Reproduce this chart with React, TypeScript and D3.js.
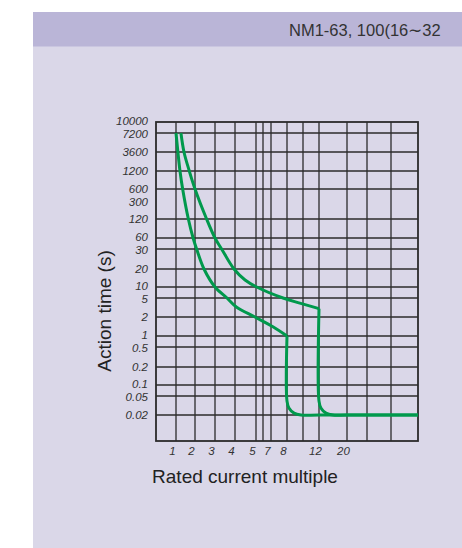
import React from "react";
import * as d3 from "d3";

// ---- data ----
const headerTitle = "NM1-63, 100(16∼32";
const yAxisTitle = "Action time (s)";
const xAxisTitle = "Rated current multiple";

// vertical grid lines (multiples of rated current)
const xGridValues = [1, 2, 3, 4, 5, 6, 7, 8, 10, 12, 20, 30, 50];
const xTickLabels = [1, 2, 3, 4, 5, 7, 8, 12, 20];
const xFrame = [0, 100];

// horizontal grid lines (seconds)
const yGridValues = [7200, 3600, 1200, 600, 120, 60, 30, 20, 10, 5, 2, 1, 0.5, 0.2, 0.1, 0.05, 0.02];
const yTickLabels = [10000, 7200, 3600, 1200, 600, 300, 120, 60, 30, 20, 10, 5, 2, 1, 0.5, 0.2, 0.1, 0.05, 0.02];
const yFrame = [10000, 0.01];

// lower curve (inverse-time part, then instantaneous trip)
const lowerX = [1, 1.1, 1.21, 1.35, 1.65, 1.9, 2.08, 2.45, 3, 3.6, 4.08, 4.95, 7.12, 8];
const lowerT = [7200, 3600, 1200, 600, 120, 60, 30, 20, 10, 5, 3.2, 2, 1.4, 1];
const lowerTripX = [8, 8, 8.24, 8.88, 9.75, 12, 100];
const lowerTripT = [1, 0.039, 0.028, 0.0219, 0.02, 0.02, 0.02];

// upper curve
const upperX = [1.26, 1.42, 1.7, 2.0, 2.58, 3.0, 3.33, 3.95, 4.48, 5.1, 7.75, 9.6, 12];
const upperT = [7200, 3600, 1200, 600, 120, 60, 30, 20, 13.1, 10, 5, 3.9, 3];
const upperTripX = [12, 12, 12.54, 14, 16, 20, 100];
const upperTripT = [3, 0.039, 0.028, 0.0219, 0.02, 0.02, 0.02];

// ---- layout (scale stops of the schematic grid) ----
const W = 462;
const H = 548;
const xStops = [xFrame[0], ...xGridValues, xFrame[1]];
const xStopPx = [156, 176, 195, 215, 235, 256, 263, 271, 287, 303, 319, 347, 367, 391, 418];
const yStops = [yFrame[0], 7200, 3600, 1200, 600, 300, 120, 60, 30, 20, 10, 5, 2, 1, 0.5, 0.2, 0.1, 0.05, 0.02, yFrame[1]];
const yStopPx = [122, 133, 152, 171, 189, 202, 219, 238, 249, 269, 287, 298, 317, 336, 347, 367, 385, 396, 415, 441];

const x = d3.scaleLinear().domain(xStops).range(xStopPx);
const y = d3.scaleLog().domain(yStops).range(yStopPx);

const GREEN = "#00994c";
const GRID = "#2b2b2b";
const Y_LABEL_FONT = 11.5;
const Y_LABEL_GAP = 13;

function zip(xs: number[], ts: number[]): [number, number][] {
  return xs.map((v, i) => [v, ts[i]]);
}

// spread tick labels apart so neighbours do not collide
function spreadLabels(pos: number[], gap: number): number[] {
  const p = pos.slice();
  for (let iter = 0; iter < 50; iter++) {
    let moved = false;
    for (let i = 1; i < p.length; i++) {
      const d = p[i] - p[i - 1];
      if (d < gap) {
        const push = (gap - d) / 2;
        p[i - 1] -= push;
        p[i] += push;
        moved = true;
      }
    }
    if (!moved) break;
  }
  return p;
}

const line = d3
  .line<[number, number]>()
  .x((d) => x(d[0]))
  .y((d) => y(d[1]))
  .curve(d3.curveCatmullRom.alpha(0.5));

export default function App() {
  const x0 = x(xFrame[0]);
  const x1 = x(xFrame[1]);
  const y0 = y(yFrame[0]);
  const y1 = y(yFrame[1]);
  const yLabelPos = spreadLabels(yTickLabels.map((v) => y(v)), Y_LABEL_GAP);
  return (
    <svg
      width={W}
      height={H}
      style={{ position: "absolute", left: 0, top: 0, fontFamily: "'Liberation Sans', Arial, Helvetica, sans-serif" }}
    >
      <rect x={0} y={0} width={W} height={H} fill="#ffffff" />
      <rect x={33} y={12} width={W - 33} height={H - 12} fill="#dad7e8" />
      <rect x={33} y={12} width={W - 33} height={34.5} fill="#bab5d7" />
      <text x={289} y={35.5} fontSize={16.5} fill="#333">
        {headerTitle}
      </text>

      {/* grid */}
      <g stroke={GRID} strokeWidth={1.3}>
        {xGridValues.map((v) => (
          <line key={"vx" + v} x1={x(v)} x2={x(v)} y1={y0} y2={y1} />
        ))}
        {yGridValues.map((v) => (
          <line key={"hy" + v} x1={x0} x2={x1} y1={y(v)} y2={y(v)} />
        ))}
      </g>
      <rect x={x0} y={y0} width={x1 - x0} height={y1 - y0} fill="none" stroke={GRID} strokeWidth={1.8} />

      {/* curves */}
      <g fill="none" stroke={GREEN} strokeWidth={3} strokeLinejoin="round">
        <path d={line(zip(lowerX, lowerT)) || ""} />
        <path d={line(zip(lowerTripX, lowerTripT)) || ""} />
        <path d={line(zip(upperX, upperT)) || ""} />
        <path d={line(zip(upperTripX, upperTripT)) || ""} />
      </g>

      {/* y tick labels */}
      <g fontSize={Y_LABEL_FONT} fontStyle="italic" fill="#333" textAnchor="end">
        {yTickLabels.map((v, i) => (
          <text key={"yl" + v} x={148} y={yLabelPos[i]} dy="0.36em">
            {String(v)}
          </text>
        ))}
      </g>
      {/* x tick labels */}
      <g fontSize={11.5} fontStyle="italic" fill="#333" textAnchor="middle">
        {xTickLabels.map((v) => (
          <text key={"xl" + v} x={x(v) - 3.5} y={455}>
            {String(v)}
          </text>
        ))}
      </g>

      <text
        transform={`translate(111,311) rotate(-90)`}
        textAnchor="middle"
        fontSize={19}
        fill="#222"
      >
        {yAxisTitle}
      </text>
      <text x={245} y={483} textAnchor="middle" fontSize={19} fill="#222">
        {xAxisTitle}
      </text>
    </svg>
  );
}
